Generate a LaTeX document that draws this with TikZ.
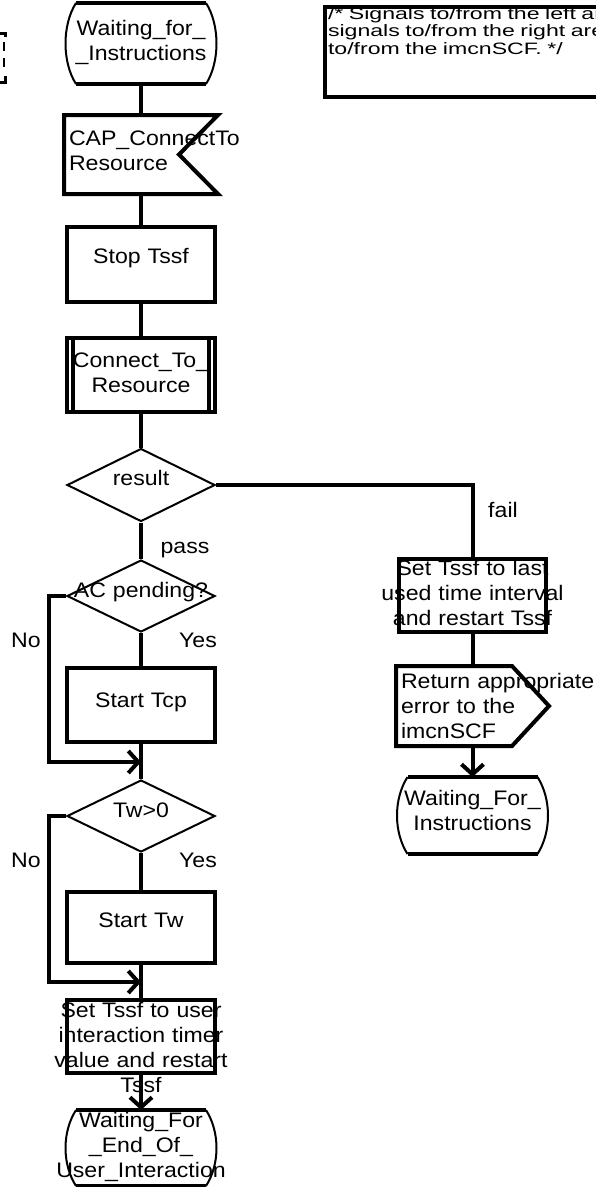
\documentclass[tikz,border=0pt]{standalone}
\usepackage{fontspec}
\setmainfont{Liberation Sans}[FakeStretch=1.1]
\newfontfamily\notefont{Liberation Sans}[FakeStretch=1.4]
\usetikzlibrary{shapes.geometric,arrows.meta}

\begin{document}
\begin{tikzpicture}[x=1pt, y=-1pt, line width=4pt,
  >={Straight Barb[length=10pt,width=22pt]},
  every node/.style={font=\fontsize{21}{25}\selectfont, inner xsep=3pt, inner ysep=0pt, text height=8pt},
  ctr/.style={align=center, execute at begin node={\leftskip=-80pt plus 1fil\rightskip=-80pt plus 1fil}},
  lft/.style={align=left, execute at begin node={\rightskip=-150pt plus 1fil}},
  state/.style={ctr, text width=120pt, minimum height=75pt},
  task/.style={ctr, draw, text width=142pt, minimum height=74pt},
  proc/.style={task},
  sigin/.style={lft, text width=144pt, minimum height=75pt},
  sigout/.style={lft, text width=106pt, minimum height=76pt},
  decision/.style={ctr, diamond, draw, line width=2pt, inner sep=0pt, text width=20pt, minimum width=148pt, minimum height=73pt},
  note/.style={align=left, draw, anchor=north west, text width=320pt, minimum height=90pt, font=\notefont\fontsize{16.5}{17.5}\selectfont},
  lbl/.style={anchor=base}]
  \useasboundingbox (0,0) rectangle (596,1187);
  \clip (0,0) rectangle (596,1187);

  % left margin: edge of a dashed box
  \draw[line width=3pt] (0,33) -- (5,33) -- (5,37);
  \draw[line width=1.5pt, dash pattern=on 9pt off 7pt] (4,42) -- (4,74);
  \draw[line width=3pt] (5,76) -- (5,82) -- (0,82);

  \node[note, text depth=74pt] (cmt) at (323,5) {/* Signals to/from the left are\\signals to/from the right are\\to/from the imcnSCF. */};

  % main column
  \node[state, text depth=25pt, minimum height=77pt] (wfi) at (141,43.5) {Waiting\_for\_\\\_Instructions};
  \node[sigin, text depth=27pt] (cap) at (141,154.5) {CAP\_ConnectTo\\Resource};
  \node[task, text depth=11pt, minimum height=75pt] (stop) at (141,264.5) {Stop Tssf};
  \node[proc, text depth=24pt] (conn) at (141,375) {Connect\_To\_\\Resource};
  \node[decision, text depth=8pt] (res) at (141,485) {result};
  \node[decision, text depth=6pt, minimum height=72pt] (acp) at (141,596) {AC pending?};
  \node[task, text depth=4pt] (tcp) at (141,705) {Start Tcp};
  \node[decision, text depth=6pt, minimum height=72pt] (twz) at (141,816) {Tw>0};
  \node[task, text depth=9pt, minimum height=71pt] (stw) at (141,927.5) {Start Tw};
  \node[task, text depth=47pt, minimum height=73pt] (setu) at (141,1036.5) {Set Tssf to user\\interaction timer\\value and restart\\Tssf};
  \node[state, text depth=50pt, minimum height=72pt] (wfe) at (141,1148) {Waiting\_For\\\_End\_Of\_\\User\_Interaction};

  % fail branch
  \node[task, text depth=49pt, minimum height=73pt, text width=141pt] (setl) at (472.5,595.5) {Set Tssf to last\\used time interval\\and restart Tssf};
  \node[sigout, text depth=44pt] (ret) at (454,706) {Return appropriate\\error to the\\imcnSCF};
  \node[state, text depth=29pt, minimum height=73pt] (wfi2) at (472.5,815.5) {Waiting\_For\_\\Instructions};

  \coordinate (m1) at (141,762);
  \coordinate (m2) at (141,982);

  % state outlines
  \draw (wfi.north west) -- (wfi.north east) (wfi.south west) -- (wfi.south east);
  \draw[line width=2pt] (wfi.north west) .. controls +(-14,22) and +(-14,-22) .. (wfi.south west)
    (wfi.north east) .. controls +(14,22) and +(14,-22) .. (wfi.south east);
  \draw (wfi2.north west) -- (wfi2.north east) (wfi2.south west) -- (wfi2.south east);
  \draw[line width=2pt] (wfi2.north west) .. controls +(-14,22) and +(-14,-22) .. (wfi2.south west)
    (wfi2.north east) .. controls +(14,22) and +(14,-22) .. (wfi2.south east);
  \draw (wfe.north west) -- (wfe.north east) (wfe.south west) -- (wfe.south east);
  \draw[line width=2pt] (wfe.north west) .. controls +(-14,22) and +(-14,-22) .. (wfe.south west)
    (wfe.north east) .. controls +(14,22) and +(14,-22) .. (wfe.south east);

  % signal and procedure outlines
  \draw[line join=miter] (cap.north west) -- (cap.north east) -- ([xshift=-39pt]cap.east) -- (cap.south east) -- (cap.south west) -- cycle;
  \draw[line join=miter] (ret.north west) -- (ret.north east) -- ([xshift=37pt]ret.east) -- (ret.south east) -- (ret.south west) -- cycle;
  \draw ([xshift=8pt]conn.north west) -- ([xshift=8pt]conn.south west)
    ([xshift=-8pt]conn.north east) -- ([xshift=-8pt]conn.south east);

  % flow lines
  \draw (wfi.south) -- (cap.north);
  \draw (cap.south) -- (stop.north);
  \draw (stop.south) -- (conn.north);
  \draw (conn.south) -- (res.north);
  \draw (res.east) -| (setl.north);
  \draw (res.south) -- (acp.north);
  \draw (acp.south) -- (tcp.north);
  \draw[->] (acp.west) -- ++(-17,0) |- (m1);
  \draw (tcp.south) -- (twz.north);
  \draw[->] (twz.west) -- ++(-17,0) |- (m2);
  \draw (twz.south) -- (stw.north);
  \draw (stw.south) -- (setu.north);
  \draw[->] (setu.south) -- (wfe.north);
  \draw (setl.south) -- (setl.south |- ret.north);
  \draw[->] (setl.south |- ret.south) -- (wfi2.north);

  % branch labels
  \node[lbl] (pass) at (185,553) {pass};
  \node[lbl] (fail) at (503,517) {fail};
  \node[lbl] (yes1) at (198,647) {Yes};
  \node[lbl] (no1) at (26,647) {No};
  \node[lbl] (yes2) at (198,867) {Yes};
  \node[lbl] (no2) at (26,867) {No};
\end{tikzpicture}
\end{document}
